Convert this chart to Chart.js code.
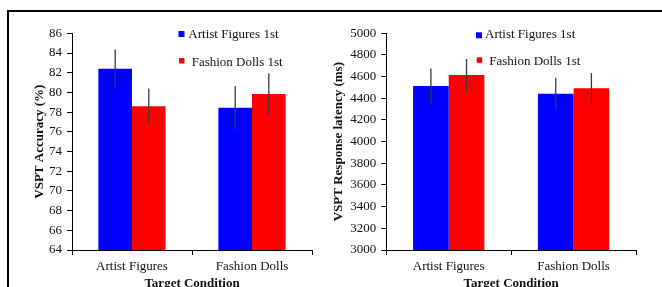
<!DOCTYPE html>
<html><head><meta charset="utf-8">
<script src="https://cdn.jsdelivr.net/npm/chart.js@4.4.1/dist/chart.umd.min.js"></script>
<style>
html,body{margin:0;padding:0;background:#fff;overflow:hidden;width:662px;height:287px;}
#frame{position:absolute;left:7px;top:10px;width:700px;height:400px;border-top:2px solid #000;border-left:2px solid #000;}
.wrap{position:absolute;top:0;width:331px;height:300px;}
</style></head><body>
<div id="frame"></div>
<div class="wrap" style="left:0"><canvas id="c1" width="331" height="300"></canvas></div>
<div class="wrap" style="left:331px"><canvas id="c2" width="331" height="300"></canvas></div>
<script>
const categories = ['Artist Figures', 'Fashion Dolls'];
const seriesNames = ['Artist Figures 1st', 'Fashion Dolls 1st'];
const accuracyArtistFirst = [82.4, 78.45];
const accuracyDollsFirst = [78.6, 79.85];
const accuracyErrArtistFirst = [1.95, 2.2];
const accuracyErrDollsFirst = [1.8, 2.1];
const latencyArtistFirst = [4514, 4443];
const latencyDollsFirst = [4615, 4492];
const latencyErrArtistFirst = [162, 147];
const latencyErrDollsFirst = [148, 140];
const accuracyTicks = [64, 86, 2];
const latencyTicks = [3000, 5000, 200];

const SERIF = "'Liberation Serif','Times New Roman',serif";
const BLUE = '#0000FF', RED = '#FF0000';

const errorBars = {
  id: 'errorBars',
  afterDatasetsDraw(chart, args, opts) {
    const ctx = chart.ctx, y = chart.scales.y;
    ctx.save();
    ctx.strokeStyle = '#3a3a3a';
    ctx.lineWidth = 1.3;
    chart.data.datasets.forEach((ds, i) => {
      const meta = chart.getDatasetMeta(i);
      meta.data.forEach((bar, j) => {
        const v = ds.data[j], e = ds.errors[j];
        ctx.beginPath();
        ctx.moveTo(bar.x, y.getPixelForValue(v + e));
        ctx.lineTo(bar.x, y.getPixelForValue(v - e));
        ctx.stroke();
      });
    });
    ctx.restore();
  }
};

const customLegend = {
  id: 'customLegend',
  afterDraw(chart, args, opts) {
    const ctx = chart.ctx;
    ctx.save();
    ctx.font = '13px ' + SERIF;
    ctx.textBaseline = 'alphabetic';
    ctx.textAlign = 'left';
    opts.items.forEach((it, i) => {
      const ds = chart.data.datasets[i];
      ctx.fillStyle = ds.backgroundColor;
      ctx.fillRect(it.sx, it.sy, it.ss, it.ss);
      ctx.fillStyle = '#111';
      ctx.fillText(ds.label, it.tx, it.ty);
    });
    ctx.restore();
  }
};

function makeChart(id, a, b, ea, eb, ticks, yTitle, yWidth, padRight, yTitlePad, catPct, legendItems) {
  return new Chart(document.getElementById(id), {
    type: 'bar',
    data: {
      labels: categories,
      datasets: [
        {label: seriesNames[0], data: a, errors: ea, backgroundColor: BLUE, borderWidth: 0,
         categoryPercentage: catPct, barPercentage: 1.0},
        {label: seriesNames[1], data: b, errors: eb, backgroundColor: RED, borderWidth: 0,
         categoryPercentage: catPct, barPercentage: 1.0}
      ]
    },
    options: {
      responsive: false,
      animation: false,
      devicePixelRatio: 1,
      layout: {padding: {top: 33.3, right: padRight, left: 0, bottom: 0}},
      plugins: {
        legend: {display: false},
        tooltip: {enabled: false},
        customLegend: {items: legendItems}
      },
      scales: {
        x: {
          offset: true,
          grid: {display: true, drawOnChartArea: false, drawTicks: true, tickLength: 5, color: '#000', offset: true},
          border: {display: true, color: '#000', width: 1},
          ticks: {color: '#111', font: {family: SERIF, size: 13}, padding: 4, maxRotation: 0},
          title: {display: true, text: 'Target Condition', color: '#111',
                  font: {family: SERIF, size: 13, weight: 'bold'}, padding: {top: 0, bottom: 9}},
          afterFit(s) { s.height = 50; }
        },
        y: {
          min: ticks[0], max: ticks[1],
          grid: {display: true, drawOnChartArea: false, drawTicks: true, tickLength: 5, color: '#000'},
          border: {display: true, color: '#000', width: 1},
          ticks: {stepSize: ticks[2], autoSkip: false, color: '#111', font: {family: SERIF, size: 13}, padding: 5,
                  callback: (v) => String(v)},
          title: {display: true, text: yTitle, color: '#111',
                  font: {family: SERIF, size: 13, weight: 'bold'}, padding: {top: yTitlePad, bottom: 0}},
          afterFit(s) { s.width = yWidth; }
        }
      }
    },
    plugins: [errorBars, customLegend]
  });
}

makeChart('c1', accuracyArtistFirst, accuracyDollsFirst, accuracyErrArtistFirst, accuracyErrDollsFirst,
  accuracyTicks, 'VSPT Accuracy (%)', 72, 19, 32.2, 0.56,
  [{sx: 178.5, sy: 31, ss: 6, tx: 188.3, ty: 38.3}, {sx: 179, sy: 58, ss: 5.5, tx: 191.7, ty: 65.7}]);
makeChart('c2', latencyArtistFirst, latencyDollsFirst, latencyErrArtistFirst, latencyErrDollsFirst,
  latencyTicks, 'VSPT Response latency (ms)', 55.3, 26, 0.2, 0.571,
  [{sx: 145, sy: 32.3, ss: 6, tx: 154, ty: 38.3}, {sx: 145.7, sy: 57.3, ss: 5.5, tx: 158.3, ty: 65}]);
</script>
</body></html>
